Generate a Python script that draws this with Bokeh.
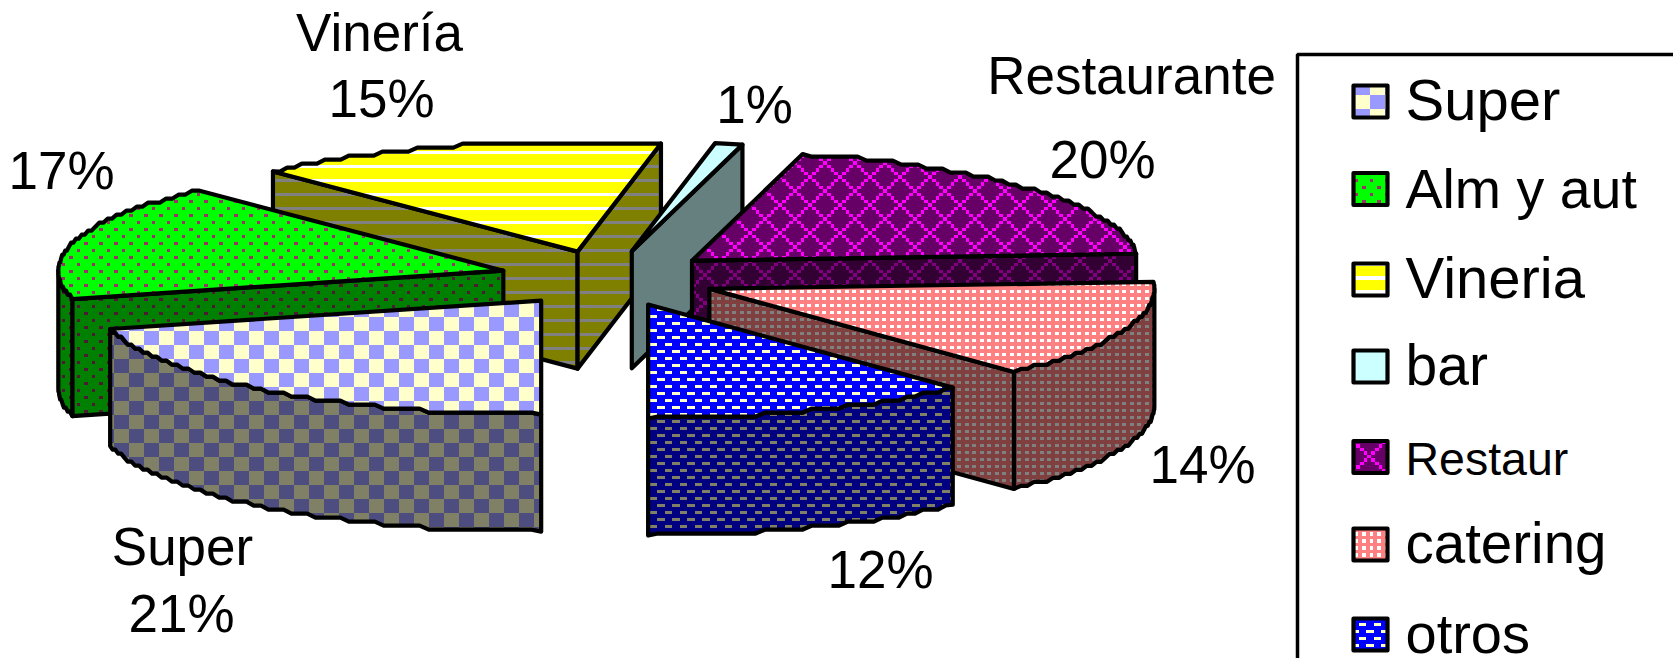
import base64
import math
import struct
import zlib

import numpy as np
from bokeh.core.properties import value
from bokeh.embed import file_html
from bokeh.models import ColumnDataSource, ImageURLTexture
from bokeh.plotting import figure
from bokeh.resources import INLINE

# Market share per sales channel, in pie order
channels = ["Super", "Alm y aut", "Vineria", "bar", "Restaur", "catering", "otros"]
shares = [21, 17, 15, 1, 20, 14, 12]

# Slice label texts
slice_labels = ["Super\n21%", "17%", "Vinería\n15%", "1%", "Restaurante\n20%", "14%", "12%"]

# Exploded pie geometry, in page pixels
W, H = 1673, 658
CX, CY = 607.5, 278.0
RX = 445.0
RY_NEAR, RY_FAR = 114.0, 110.0
DEPTH = 117.0
EXPLODE_X, EXPLODE_Y = 0.245, 0.2545
STAIR = 4.0
EDGE_WIDTH = 4.2

# Fill styles: pattern, background, foreground, tile anchor on the page
CELL_W, CELL_H = 3.75, 3.5
TILE_W, TILE_H = 30, 28


def checker(i, j):
    return (i // 4 + j // 4) % 2 == 0


def dots(i, j):
    return (i % 4 == 0 and j % 4 == 0) or (i % 4 == 2 and j % 4 == 2)


def stripes(i, j):
    return j % 4 == 0


def solid(i, j):
    return False


def lattice(i, j):
    return (i - j) % 8 == 0 or (i + j) % 8 == 0


def grid(i, j):
    return i % 2 == 0 and j % 2 == 0


def bricks(i, j):
    return (j % 4 == 0 and i % 4 in (0, 1)) or (j % 4 == 2 and i % 4 in (2, 3))


styles = {
    "Super": (checker, "#9999FF", "#FFFFCC", (519.0, 302.7), "#4D4D80", "#808066"),
    "Alm y aut": (dots, "#00FF00", "#993366", (204.1, 213.95), "#008000", "#4D1A33"),
    "Vineria": (stripes, "#FFFF00", "#FFFFFF", (0.0, 150.55), "#808000", "#808080"),
    "bar": (solid, "#CCFFFF", "#CCFFFF", (0.0, 0.0), "#668080", "#668080"),
    "Restaur": (lattice, "#660066", "#FF00FF", (838.1, 203.25), "#330033", "#800080"),
    "catering": (grid, "#FF8080", "#FFFFFF", (919.8, 303.95), "#804040", "#808080"),
    "otros": (bricks, "#0000FF", "#FFFFCC", (649.55, 314.95), "#000080", "#808066"),
}

# Legend layout
LEGEND_LEFT, LEGEND_TOP = 1297, 54
KEY_LEFT, KEY_RIGHT = 1353, 1387
key_centres = [101, 188.5, 279, 366, 456.5, 544, 634]
key_baselines = [120, 208, 298, 385, 475, 563, 653]
key_font_px = [58, 55.5, 58, 57, 46.5, 56.5, 56]
key_anchors = [
    (1370, 81),
    (1362.1, 185.6),
    (0, 276.25),
    (0, 0),
    (1367.4, 455),
    (1362.1, 539.25),
    (1374, 622.6),
]
LEGEND_TEXT_X = 1405

# Slice label anchors: centre x and baseline y
label_positions = [
    [(182, 565), (181, 632)],
    [(61, 189)],
    [(379, 51), (381, 117)],
    [(754, 123)],
    [(1131, 94), (1102, 178)],
    [(1202, 483)],
    [(880, 588)],
]
LABEL_FONT_PX = 53
BASELINE_LIFT = 0.36


def rgb(colour):
    return tuple(int(colour[k : k + 2], 16) for k in (1, 3, 5))


def png_uri(rows):
    """Encode rows of (r, g, b) tuples as a PNG data URI."""
    raw = b"".join(b"\x00" + bytes(c for px in row for c in px) for row in rows)

    def chunk(tag, body):
        crc = zlib.crc32(tag + body) & 0xFFFFFFFF
        return struct.pack(">I", len(body)) + tag + body + struct.pack(">I", crc)

    header = struct.pack(">IIBBBBB", len(rows[0]), len(rows), 8, 2, 0, 0, 0)
    data = b"\x89PNG\r\n\x1a\n" + chunk(b"IHDR", header) + chunk(b"IDAT", zlib.compress(raw)) + chunk(b"IEND", b"")
    return "data:image/png;base64," + base64.b64encode(data).decode()


def texture(pattern, back, fore, anchor):
    back, fore = rgb(back), rgb(fore)
    rows = []
    for y in range(TILE_H):
        row = []
        for x in range(TILE_W):
            i = int(((x + 0.5 - anchor[0]) % TILE_W) / CELL_W)
            j = int(((y + 0.5 - anchor[1]) % TILE_H) / CELL_H)
            row.append(fore if pattern(i, j) else back)
        rows.append(row)
    return ImageURLTexture(url=png_uri(rows), repetition="repeat")


def arc(theta0, theta1):
    """Rim points between two angles, measured clockwise from the front of the pie."""
    n = max(2, int(abs(theta1 - theta0) / 1.2))
    t = np.radians(np.linspace(theta0, theta1, n))
    xs = -np.sin(t) * RX
    ys = np.cos(t) * np.where(np.cos(t) > 0, RY_NEAR, RY_FAR)
    stepped = np.round(ys / STAIR) * STAIR
    stepped[0], stepped[-1] = ys[0], ys[-1]
    return xs, stepped


p = figure(
    width=W,
    height=H,
    x_range=(0, W),
    y_range=(H, 0),
    output_backend="svg",
    toolbar_location=None,
    min_border=0,
)
p.axis.visible = False
p.grid.visible = False
p.outline_line_color = None
p.background_fill_color = "white"
p.border_fill_color = "white"

tag = [0]


def face(xs, ys, pattern, back, fore, anchor):
    tag[0] += 1
    kwargs = dict(fill_color=back, line_color="black", line_width=EDGE_WIDTH, line_join="round")
    if pattern is not solid:
        name = f"tile{tag[0]}"
        kwargs.update(hatch_pattern=name, hatch_extra={name: texture(pattern, back, fore, anchor)})
    p.patch(list(xs), list(ys), **kwargs)


total = sum(shares)
edges = np.concatenate([[0.0], np.cumsum(shares)]) * 360.0 / total
paint_order = ["Vineria", "Alm y aut", "bar", "Restaur", "catering", "otros", "Super"]

for name in paint_order:
    k = channels.index(name)
    pattern, back, fore, anchor, dark_back, dark_fore = styles[name]
    t0, t1 = edges[k], edges[k + 1]
    mid = math.radians((t0 + t1) / 2)
    ax = CX - math.sin(mid) * RX * EXPLODE_X
    ay = CY + math.cos(mid) * RY_FAR * EXPLODE_Y

    rim_x, rim_y = arc(t0, t1)
    rim_x, rim_y = ax + rim_x, ay + rim_y
    start = (rim_x[0], rim_y[0])
    end = (rim_x[-1], rim_y[-1])

    # Radial walls that face the viewer
    if t0 > 45 and t0 < 180:
        face(
            [ax, start[0], start[0], ax],
            [ay, start[1], start[1] + DEPTH, ay + DEPTH],
            pattern, dark_back, dark_fore, anchor,
        )
    if 180 < t1 < 330:
        face(
            [ax, end[0], end[0], ax],
            [ay, end[1], end[1] + DEPTH, ay + DEPTH],
            pattern, dark_back, dark_fore, anchor,
        )

    # Outer wall, for the part of the rim on the near side of the pie
    for lo, hi in ((0, 90), (270, 360)):
        a, b = max(t0, lo), min(t1, hi)
        if b > a:
            sx, sy = arc(a, b)
            sx, sy = ax + sx, ay + sy
            face(
                np.concatenate([sx, sx[::-1]]),
                np.concatenate([sy, sy[::-1] + DEPTH]),
                pattern, dark_back, dark_fore, anchor,
            )

    face(
        np.concatenate([[ax], rim_x]),
        np.concatenate([[ay], rim_y]),
        pattern, back, fore, anchor,
    )

# Slice labels
label_text, label_x, label_y = [], [], []
for text, spots in zip(slice_labels, label_positions):
    for line, (x, y) in zip(text.split("\n"), spots):
        label_text.append(line)
        label_x.append(x)
        label_y.append(y)
p.text(
    x="x",
    y="y",
    text="t",
    source=ColumnDataSource(dict(x=label_x, y=label_y, t=label_text)),
    text_font=value("Liberation Sans"),
    text_font_size=f"{LABEL_FONT_PX}px",
    text_align="center",
    text_baseline="alphabetic",
    text_color="black",
    y_offset=-BASELINE_LIFT * LABEL_FONT_PX,
)

# Legend frame runs off the page on the right and at the bottom
p.line([LEGEND_LEFT, LEGEND_LEFT, W + 20], [H + 20, LEGEND_TOP, LEGEND_TOP], line_color="black", line_width=3.5)

for name, centre, baseline, font_px, anchor in zip(channels, key_centres, key_baselines, key_font_px, key_anchors):
    pattern, back, fore, _, _, _ = styles[name]
    top, bottom = centre - 16, centre + 16
    face(
        [KEY_LEFT, KEY_RIGHT, KEY_RIGHT, KEY_LEFT],
        [top, top, bottom, bottom],
        pattern, back, fore, anchor,
    )
    p.text(
        x=[LEGEND_TEXT_X],
        y=[baseline],
        text=[name],
        text_font=value("Liberation Sans"),
        text_font_size=f"{font_px}px",
        text_align="left",
        text_baseline="alphabetic",
        text_color="black",
        y_offset=-BASELINE_LIFT * font_px,
    )

open("out.html", "w").write(file_html(p, INLINE))
